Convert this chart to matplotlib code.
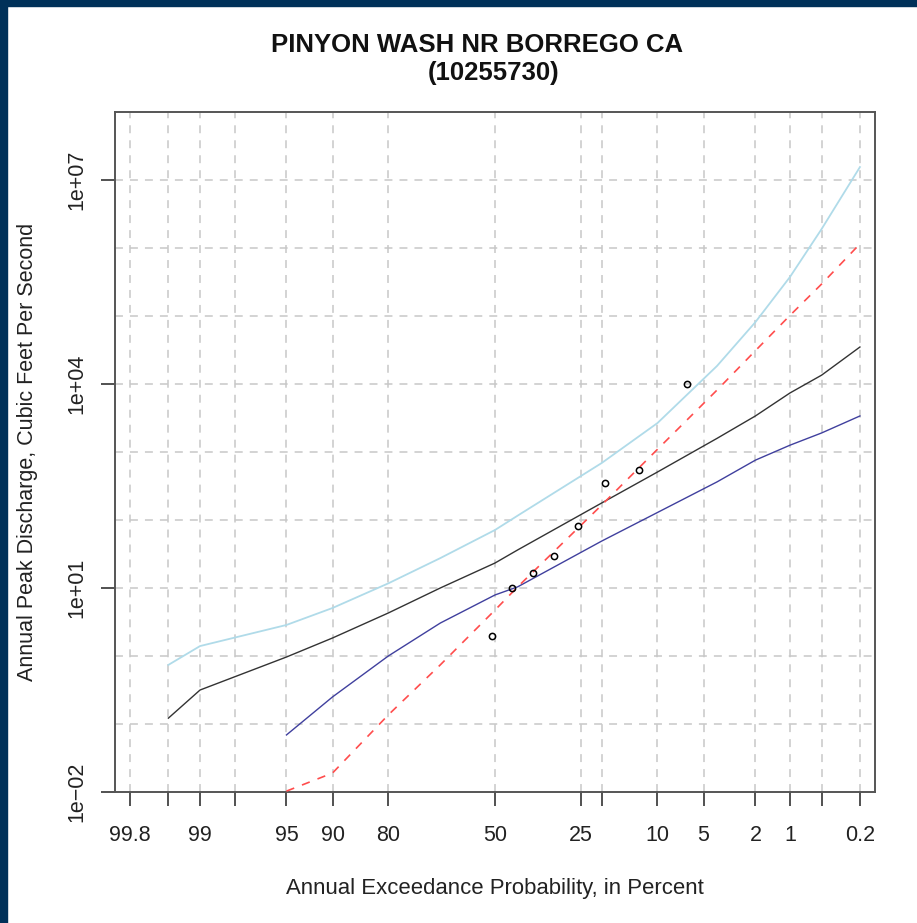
import matplotlib
matplotlib.use("Agg")
import matplotlib.pyplot as plt
from matplotlib.patches import Rectangle
from statistics import NormalDist

plt.rcParams['font.family'] = ['Liberation Sans', 'DejaVu Sans']

# annual exceedance probabilities (percent) used for the frequency curves
aep_curve = [99.5, 99, 95, 90, 80, 66.7, 50, 42.9, 20, 10, 4, 2, 1, 0.5, 0.2]
fitted = [0.122, 0.316, 0.966, 1.84, 4.29, 10.0, 23.3, 36.3, 178, 508, 1585, 3388, 7379, 13490, 34990]
upper_ci = [0.74, 1.40, 2.86, 5.08, 11.7, 27.5, 71.3, 116, 689, 2667, 18400, 81300, 375000, 1.9e6, 1.55e7]

aep_lower = [95, 90, 80, 66.7, 50, 42.9, 20, 10, 4, 2, 1, 0.5, 0.2]
lower_ci = [0.069, 0.25, 1.0, 3.05, 7.9, 10.4, 49, 129, 363, 759, 1259, 1905, 3388]
alt_fit = [0.0103, 0.019, 0.136, 0.74, 4.74, 10.4, 166, 1096, 8128, 30900, 102000, 295000, 1.15e6]

# observed annual peaks (plotting positions)
peak_aep = [51.0, 44.6, 38.3, 32.0, 25.6, 19.3, 12.8, 6.45]
peak_q = [1.97, 10.1, 16.8, 29.5, 81.3, 347, 543, 10000]

x_ticks = [99.8, 99.5, 99, 98, 95, 90, 80, 50, 25, 20, 10, 5, 2, 1, 0.5, 0.2]
x_labels = ['99.8', '', '99', '', '95', '90', '80', '50', '25', '', '10', '5', '2', '1', '', '0.2']
y_ticks = [1e-2, 1e1, 1e4, 1e7]
y_labels = ['1e\u221202', '1e+01', '1e+04', '1e+07']


def zq(p):
    # normal quantile of the non-exceedance probability
    return NormalDist().inv_cdf(1 - p / 100.0)


W, H = 917, 923
fig = plt.figure(figsize=(W / 100, H / 100), dpi=100)
ax = fig.add_axes([115 / W, 1 - 792 / H, 760 / W, 680 / H])

ax.set_yscale('log')
ax.set_xlim(-2.997, 2.997)
ax.set_ylim(1e-2, 1e8)

# grid
for p in x_ticks:
    ax.axvline(zq(p), color='#c8c8c8', lw=1.1, ls=(0, (5.2, 4.6)), zorder=0)
for e in range(-1, 8):
    ax.axhline(10.0 ** e, color='#c8c8c8', lw=1.1, ls=(0, (5.2, 4.6)), zorder=0)

ax.plot([zq(p) for p in aep_curve], upper_ci, color='#b0dbe9', lw=1.3, zorder=2)
ax.plot([zq(p) for p in aep_curve], fitted, color='#333333', lw=1.0, zorder=3)
ax.plot([zq(p) for p in aep_lower], lower_ci, color='#40409e', lw=1.0, zorder=3)
ax.plot([zq(p) for p in aep_lower], alt_fit, color='#ff4d4d', lw=1.2,
        ls=(0, (5, 5)), zorder=4)
ax.plot([zq(p) for p in peak_aep], peak_q, 'o', mfc='none', mec='black',
        ms=4.5, mew=1.1, zorder=5)

ax.set_xticks([zq(p) for p in x_ticks])
ax.set_xticklabels(x_labels)
ax.set_yticks(y_ticks)
ax.set_yticklabels(y_labels, rotation=90, va='center')
ax.yaxis.set_minor_locator(matplotlib.ticker.NullLocator())
ax.tick_params(axis='both', length=10, width=1.1, color='#222222',
               labelsize=15.5, labelcolor='#222222')
ax.tick_params(axis='x', pad=14)
ax.tick_params(axis='y', pad=10)
for s in ax.spines.values():
    s.set_color('#555555')
    s.set_linewidth(1.4)

ax.set_xlabel('Annual Exceedance Probability, in Percent', fontsize=15.9,
              color='#222222', labelpad=23)
ax.set_ylabel('Annual Peak Discharge, Cubic Feet Per Second', fontsize=15.5,
              color='#222222', labelpad=20)

fig.text(477 / W, 1 - 45 / H, 'PINYON WASH NR BORREGO CA', ha='center',
         va='center', fontsize=18.5, fontweight='bold', color='#111111')
fig.text(494 / W, 1 - 73 / H, '(10255730)', ha='center', va='center',
         fontsize=18.5, fontweight='bold', color='#111111')

# dark frame on the top and left edges
fig.patches.append(Rectangle((0, 1 - 6 / H), 1, 6 / H, transform=fig.transFigure,
                             color='#003159', zorder=10))
fig.patches.append(Rectangle((0, 0), 7 / W, 1, transform=fig.transFigure,
                             color='#003159', zorder=10))

fig.savefig('out.png', dpi=100)
